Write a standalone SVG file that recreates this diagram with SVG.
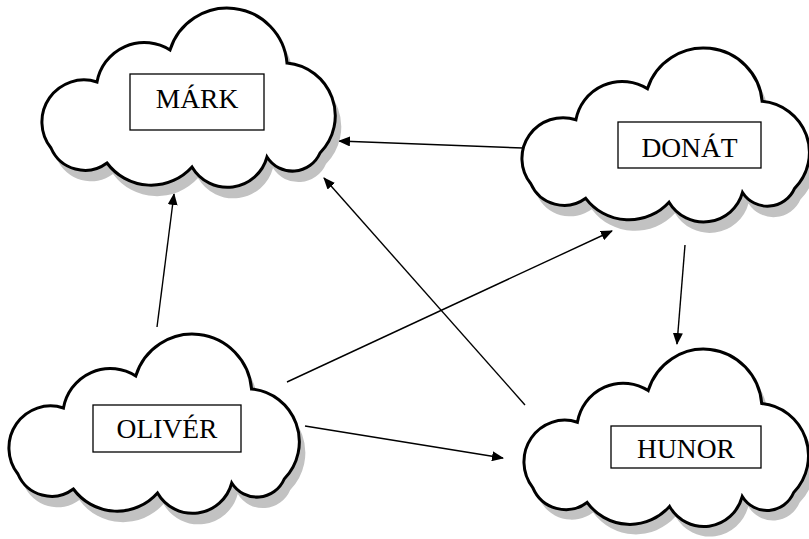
<svg xmlns="http://www.w3.org/2000/svg" width="809" height="539" viewBox="0 0 809 539">
<style>
.cloud{fill:#fff;stroke:#000;stroke-width:3;vector-effect:non-scaling-stroke}
.shadow{fill:#c2c2c2;stroke:none}
.box{fill:#fff;stroke:#000;stroke-width:1.3}
.lbl{font-family:"Liberation Serif","Times New Roman",serif;font-size:27.5px;fill:#000;text-anchor:middle}
.edge{stroke:#000;stroke-width:1.4;fill:none;marker-end:url(#ah)}
</style>
<defs>
<marker id="ah" viewBox="0 0 12 10" refX="11" refY="5" markerWidth="12" markerHeight="10" markerUnits="userSpaceOnUse" orient="auto"><path d="M0,0 L12,5 L0,10 Z" fill="#000"/></marker>
</defs>
<rect width="809" height="539" fill="#fff"/>
<g id="connectors">
<line class="edge" x1="523" y1="148" x2="339" y2="141"/>
<line class="edge" x1="157" y1="327" x2="174" y2="194"/>
<line class="edge" x1="525" y1="405" x2="324" y2="178"/>
<line class="edge" x1="287" y1="382" x2="612" y2="231"/>
<line class="edge" x1="305" y1="426" x2="503" y2="458"/>
<line class="edge" x1="685" y1="245" x2="677" y2="344"/>
</g>
<g id="node-mark">
<path class="shadow" transform="translate(49,17)" d="M8,142 A42,42 0 0 1 54,76 A48,48 0 0 1 127,44 A60,60 0 0 1 244,57 A53,53 0 0 1 277,147 A30,30 0 0 1 224,151 A41,41 0 0 1 149,161 A55,55 0 0 1 64,157 A37,37 0 0 1 8,142 Z"/>
<path class="cloud" transform="translate(43,6)" d="M8,142 A42,42 0 0 1 54,76 A48,48 0 0 1 127,44 A60,60 0 0 1 244,57 A53,53 0 0 1 277,147 A30,30 0 0 1 224,151 A41,41 0 0 1 149,161 A55,55 0 0 1 64,157 A37,37 0 0 1 8,142 Z"/>
<rect class="box" x="130" y="74" width="134" height="56"/>
<text class="lbl" x="197" y="108">MÁRK</text>
</g>
<g id="node-donat">
<path class="shadow" transform="translate(529,57) scale(0.98,0.97)" d="M8,142 A42,42 0 0 1 54,76 A48,48 0 0 1 127,44 A60,60 0 0 1 244,57 A53,53 0 0 1 277,147 A30,30 0 0 1 224,151 A41,41 0 0 1 149,161 A55,55 0 0 1 64,157 A37,37 0 0 1 8,142 Z"/>
<path class="cloud" transform="translate(523,46) scale(0.98,0.97)" d="M8,142 A42,42 0 0 1 54,76 A48,48 0 0 1 127,44 A60,60 0 0 1 244,57 A53,53 0 0 1 277,147 A30,30 0 0 1 224,151 A41,41 0 0 1 149,161 A55,55 0 0 1 64,157 A37,37 0 0 1 8,142 Z"/>
<rect class="box" x="618" y="122" width="143" height="46"/>
<text class="lbl" x="689.5" y="157">DONÁT</text>
</g>
<g id="node-oliver">
<path class="shadow" transform="translate(16,343) scale(0.99,1)" d="M8,142 A42,42 0 0 1 54,76 A48,48 0 0 1 127,44 A60,60 0 0 1 244,57 A53,53 0 0 1 277,147 A30,30 0 0 1 224,151 A41,41 0 0 1 149,161 A55,55 0 0 1 64,157 A37,37 0 0 1 8,142 Z"/>
<path class="cloud" transform="translate(10,332) scale(0.99,1)" d="M8,142 A42,42 0 0 1 54,76 A48,48 0 0 1 127,44 A60,60 0 0 1 244,57 A53,53 0 0 1 277,147 A30,30 0 0 1 224,151 A41,41 0 0 1 149,161 A55,55 0 0 1 64,157 A37,37 0 0 1 8,142 Z"/>
<rect class="box" x="93" y="405" width="148" height="47"/>
<text class="lbl" x="167" y="438">OLIVÉR</text>
</g>
<g id="node-hunor">
<path class="shadow" transform="translate(531,357) scale(0.97,0.99)" d="M8,142 A42,42 0 0 1 54,76 A48,48 0 0 1 127,44 A60,60 0 0 1 244,57 A53,53 0 0 1 277,147 A30,30 0 0 1 224,151 A41,41 0 0 1 149,161 A55,55 0 0 1 64,157 A37,37 0 0 1 8,142 Z"/>
<path class="cloud" transform="translate(525,347) scale(0.97,0.99)" d="M8,142 A42,42 0 0 1 54,76 A48,48 0 0 1 127,44 A60,60 0 0 1 244,57 A53,53 0 0 1 277,147 A30,30 0 0 1 224,151 A41,41 0 0 1 149,161 A55,55 0 0 1 64,157 A37,37 0 0 1 8,142 Z"/>
<rect class="box" x="611" y="426" width="150" height="42"/>
<text class="lbl" x="686" y="458">HUNOR</text>
</g>
</svg>
